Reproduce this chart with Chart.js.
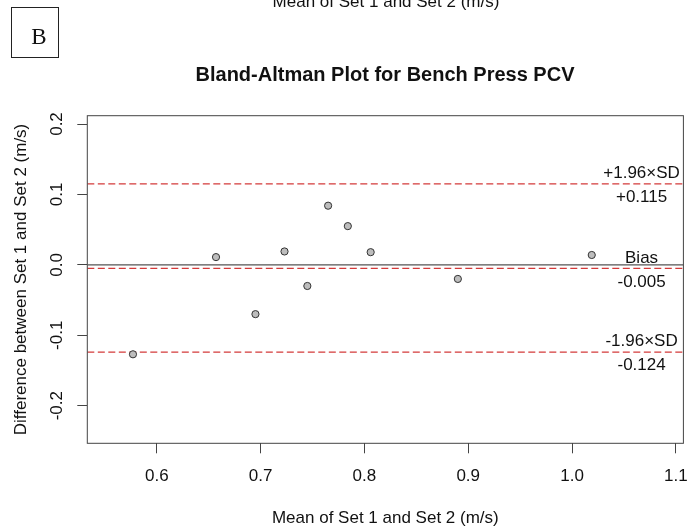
<!DOCTYPE html>
<html>
<head>
<meta charset="utf-8">
<script src="https://cdn.jsdelivr.net/npm/chart.js@4.4.1/dist/chart.umd.min.js"></script>
<style>
  html, body { margin: 0; padding: 0; background: #fff; }
  #wrap { width: 688px; height: 527px; }
</style>
</head>
<body>
<div id="wrap"><canvas id="c" width="688" height="527"></canvas></div>
<script>
// ---- data ----
const meanVals = [0.577, 0.657, 0.695, 0.723, 0.745, 0.765, 0.784, 0.806, 0.890, 1.019];
const diffVals = [-0.127, 0.011, -0.070, 0.019, -0.030, 0.084, 0.055, 0.018, -0.020, 0.014];
const limitVals = [0.115, -0.005, -0.124];
const limitNames = ['+1.96\u00D7SD', 'Bias', '-1.96\u00D7SD'];
const limitTexts = ['+0.115', '-0.005', '-0.124'];
const labelXVal = 1.067;
const xTicks = [0.6, 0.7, 0.8, 0.9, 1.0, 1.1];
const yTicks = [-0.2, -0.1, 0.0, 0.1, 0.2];
const xRange = [0.533, 1.1073];
const yRange = [-0.2534, 0.2118];
const titleText = 'Bland-Altman Plot for Bench Press PCV';
const xTitle = 'Mean of Set 1 and Set 2 (m/s)';
const yTitle = 'Difference between Set 1 and Set 2 (m/s)';
const panelLetter = 'B';

const FONT = '"Liberation Sans", Arial, sans-serif';
const RED = '#d43a3a';

const points = meanVals.map((x, i) => ({ x: x, y: diffVals[i] }));

const decor = {
  id: 'decor',
  beforeDatasetsDraw(chart) {
    const { ctx, chartArea: a, scales: { x, y } } = chart;
    ctx.save();
    ctx.beginPath();
    ctx.rect(a.left, a.top, a.right - a.left, a.bottom - a.top);
    ctx.clip();
    const y0 = y.getPixelForValue(0);
    ctx.strokeStyle = '#555';
    ctx.lineWidth = 1.3;
    ctx.setLineDash([]);
    ctx.beginPath();
    ctx.moveTo(a.left, y0);
    ctx.lineTo(a.right, y0);
    ctx.stroke();
    ctx.strokeStyle = RED;
    ctx.lineWidth = 1.4;
    ctx.setLineDash([7, 3.5]);
    limitVals.forEach(v => {
      const py = y.getPixelForValue(v);
      ctx.beginPath();
      ctx.moveTo(a.left, py);
      ctx.lineTo(a.right, py);
      ctx.stroke();
    });
    ctx.restore();
  },
  afterDraw(chart) {
    const { ctx, chartArea: a, scales: { x, y } } = chart;
    ctx.save();
    ctx.strokeStyle = '#444';
    ctx.lineWidth = 1;
    ctx.setLineDash([]);
    ctx.strokeRect(a.left, a.top, a.right - a.left, a.bottom - a.top);
    ctx.fillStyle = '#111';
    ctx.font = '17px ' + FONT;
    ctx.textAlign = 'center';
    ctx.textBaseline = 'middle';
    const lx = x.getPixelForValue(labelXVal);
    limitVals.forEach((v, i) => {
      const py = y.getPixelForValue(v);
      ctx.fillText(limitNames[i], lx, py - 10.5);
      ctx.fillText(limitTexts[i], lx, py + 13.5);
    });
    yTicks.forEach(v => {
      const py = y.getPixelForValue(v);
      ctx.save();
      ctx.translate(57.5, py);
      ctx.rotate(-Math.PI / 2);
      ctx.textAlign = 'center';
      ctx.textBaseline = 'middle';
      ctx.fillText(v.toFixed(1), 0, 0);
      ctx.restore();
    });
    ctx.font = 'bold 20px ' + FONT;
    ctx.textAlign = 'center';
    ctx.textBaseline = 'alphabetic';
    ctx.fillText(titleText, 385, 80.7);
    ctx.font = '17px ' + FONT;
    ctx.fillText(xTitle, 386, 7);
    ctx.strokeStyle = '#222';
    ctx.lineWidth = 1;
    ctx.strokeRect(11.5, 7.5, 47, 50);
    ctx.font = '23px "Liberation Serif", "Times New Roman", serif';
    ctx.fillText(panelLetter, 39, 43.5);
    ctx.restore();
  }
};

new Chart(document.getElementById('c'), {
  type: 'scatter',
  data: {
    datasets: [{
      data: points,
      pointRadius: 3.6,
      pointHoverRadius: 3.6,
      backgroundColor: '#bdbdbd',
      borderColor: '#333',
      borderWidth: 1
    }]
  },
  options: {
    responsive: false,
    animation: false,
    events: [],
    layout: { padding: { top: 115.7, right: 2.7, left: 0, bottom: 0 } },
    plugins: { legend: { display: false }, tooltip: { enabled: false }, title: { display: false } },
    scales: {
      x: {
        type: 'linear',
        min: xRange[0],
        max: xRange[1],
        afterBuildTicks: s => { s.ticks = xTicks.map(v => ({ value: v })); },
        afterFit: s => { s.height = 527 - 443.3; s.paddingLeft = 0; s.paddingRight = 0; },
        grid: { display: true, drawOnChartArea: false, drawTicks: true, tickLength: 10, color: '#444', lineWidth: 1 },
        border: { display: false },
        ticks: {
          padding: 13,
          color: '#111',
          font: { family: FONT, size: 17 },
          maxRotation: 0,
          autoSkip: false,
          callback: v => Number(v).toFixed(1)
        },
        title: {
          display: true,
          text: xTitle,
          color: '#111',
          font: { family: FONT, size: 17, lineHeight: 1 },
          padding: { top: 0, bottom: 0 }
        }
      },
      y: {
        type: 'linear',
        min: yRange[0],
        max: yRange[1],
        afterBuildTicks: s => { s.ticks = yTicks.map(v => ({ value: v })); },
        afterFit: s => { s.width = 87.3; s.paddingTop = 0; s.paddingBottom = 0; },
        grid: { display: true, drawOnChartArea: false, drawTicks: true, tickLength: 10, color: '#444', lineWidth: 1 },
        border: { display: false },
        ticks: {
          color: 'rgba(0,0,0,0)',
          font: { family: FONT, size: 17 },
          autoSkip: false,
          callback: v => Number(v).toFixed(1)
        },
        title: {
          display: true,
          text: yTitle,
          color: '#111',
          font: { family: FONT, size: 17, lineHeight: 1 },
          padding: { top: 13, bottom: 0 }
        }
      }
    }
  },
  plugins: [decor]
});
</script>
</body>
</html>
